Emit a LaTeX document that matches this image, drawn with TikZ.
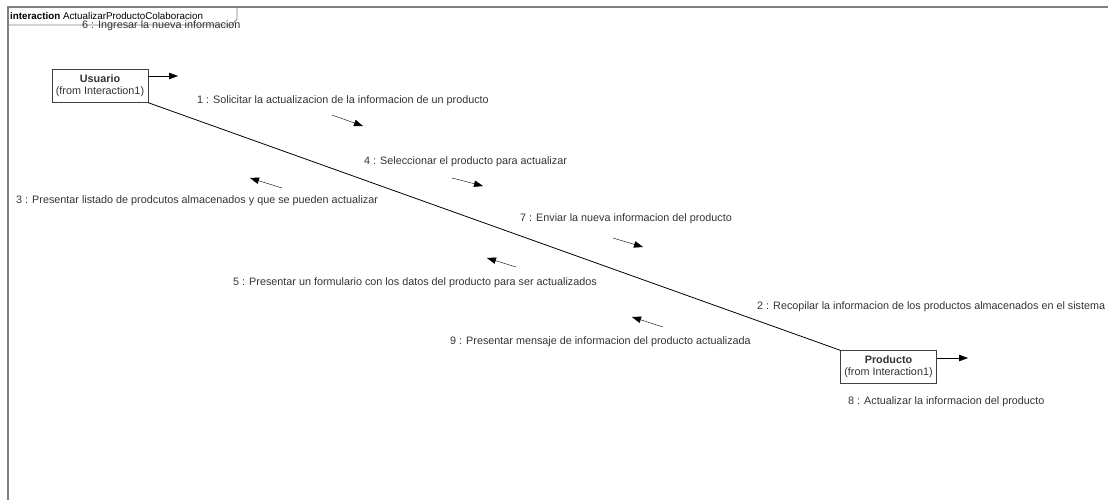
\documentclass[tikz,border=0pt]{standalone}
\usepackage{fontspec}
\setmainfont{Liberation Sans}
\usetikzlibrary{arrows.meta, positioning}

\begin{document}
\begin{tikzpicture}[
    x=1pt, y=-1pt,
    obj/.style={rectangle, draw=black!75, fill=white, minimum width=96pt, minimum height=33pt, align=center, inner sep=1pt, text=black!80, font=\fontsize{10.8}{12}\selectfont},
    msg/.style={anchor=west, inner sep=0pt, text=black!80, font=\fontsize{10.8}{12}\selectfont},
    arrow/.style={-{Triangle[length=9pt, width=6.5pt]}, black},
    frame/.style={draw=black!50, line width=1.5pt}
]
\useasboundingbox (0,0) rectangle (1108,500);

% frame of the interaction
\draw[frame] (1112,7) -- (8,7) -- (8,504);
\draw[frame, line width=0.8pt] (8,25) -- (232,25) -- (237,19) -- (237,7);
\node[anchor=west, inner sep=0pt, font=\fontsize{9.8}{11}\selectfont] (title) at (10,16) {\textbf{interaction} ActualizarProductoColaboracion};

% objects
\node[obj] (usuario)  at (100,86)    {\textbf{Usuario}\\(from Interaction1)};
\node[obj] (producto) at (888.5,367) {\textbf{Producto}\\(from Interaction1)};

\draw[black, thick] (usuario.south east) -- (producto.north west);

% self stubs
\coordinate (uend) at (178,76);
\coordinate (pend) at (968,358);
\draw[arrow] ([yshift=10pt]usuario.east) -- (uend);
\draw[arrow] ([yshift=9pt]producto.east) -- (pend);

% messages
\node[msg] (m6) at (82,26)   {6 : Ingresar la nueva informacion};
\node[msg] (m1) at (197,101) {1 : Solicitar la actualizacion de la informacion de un producto};
\node[msg] (m4) at (364,162) {4 : Seleccionar el producto para actualizar};
\node[msg] (m3) at (16,201)  {3 : Presentar listado de prodcutos almacenados y que se pueden actualizar};
\node[msg] (m7) at (520,219) {7 : Enviar la nueva informacion del producto};
\node[msg] (m5) at (233,283) {5 : Presentar un formulario con los datos del producto para ser actualizados};
\node[msg] (m2) at (757,307) {2 : Recopilar la informacion de los productos almacenados en el sistema};
\node[msg] (m9) at (450,342) {9 : Presentar mensaje de informacion del producto actualizada};
\node[msg] (m8) at (848,402) {8 : Actualizar la informacion del producto};

% message direction arrows
\coordinate (a1s) at (332,115); \coordinate (a1e) at (363,126);
\coordinate (a4s) at (452,178); \coordinate (a4e) at (483,186);
\coordinate (a3s) at (282,188); \coordinate (a3e) at (250,178);
\coordinate (a7s) at (613,238); \coordinate (a7e) at (643,247);
\coordinate (a5s) at (516,267); \coordinate (a5e) at (487,258);
\coordinate (a9s) at (663,327); \coordinate (a9e) at (632,317);
\foreach \n in {1,4,3,7,5,9}
    \draw[arrow] (a\n s) -- (a\n e);
\end{tikzpicture}
\end{document}
